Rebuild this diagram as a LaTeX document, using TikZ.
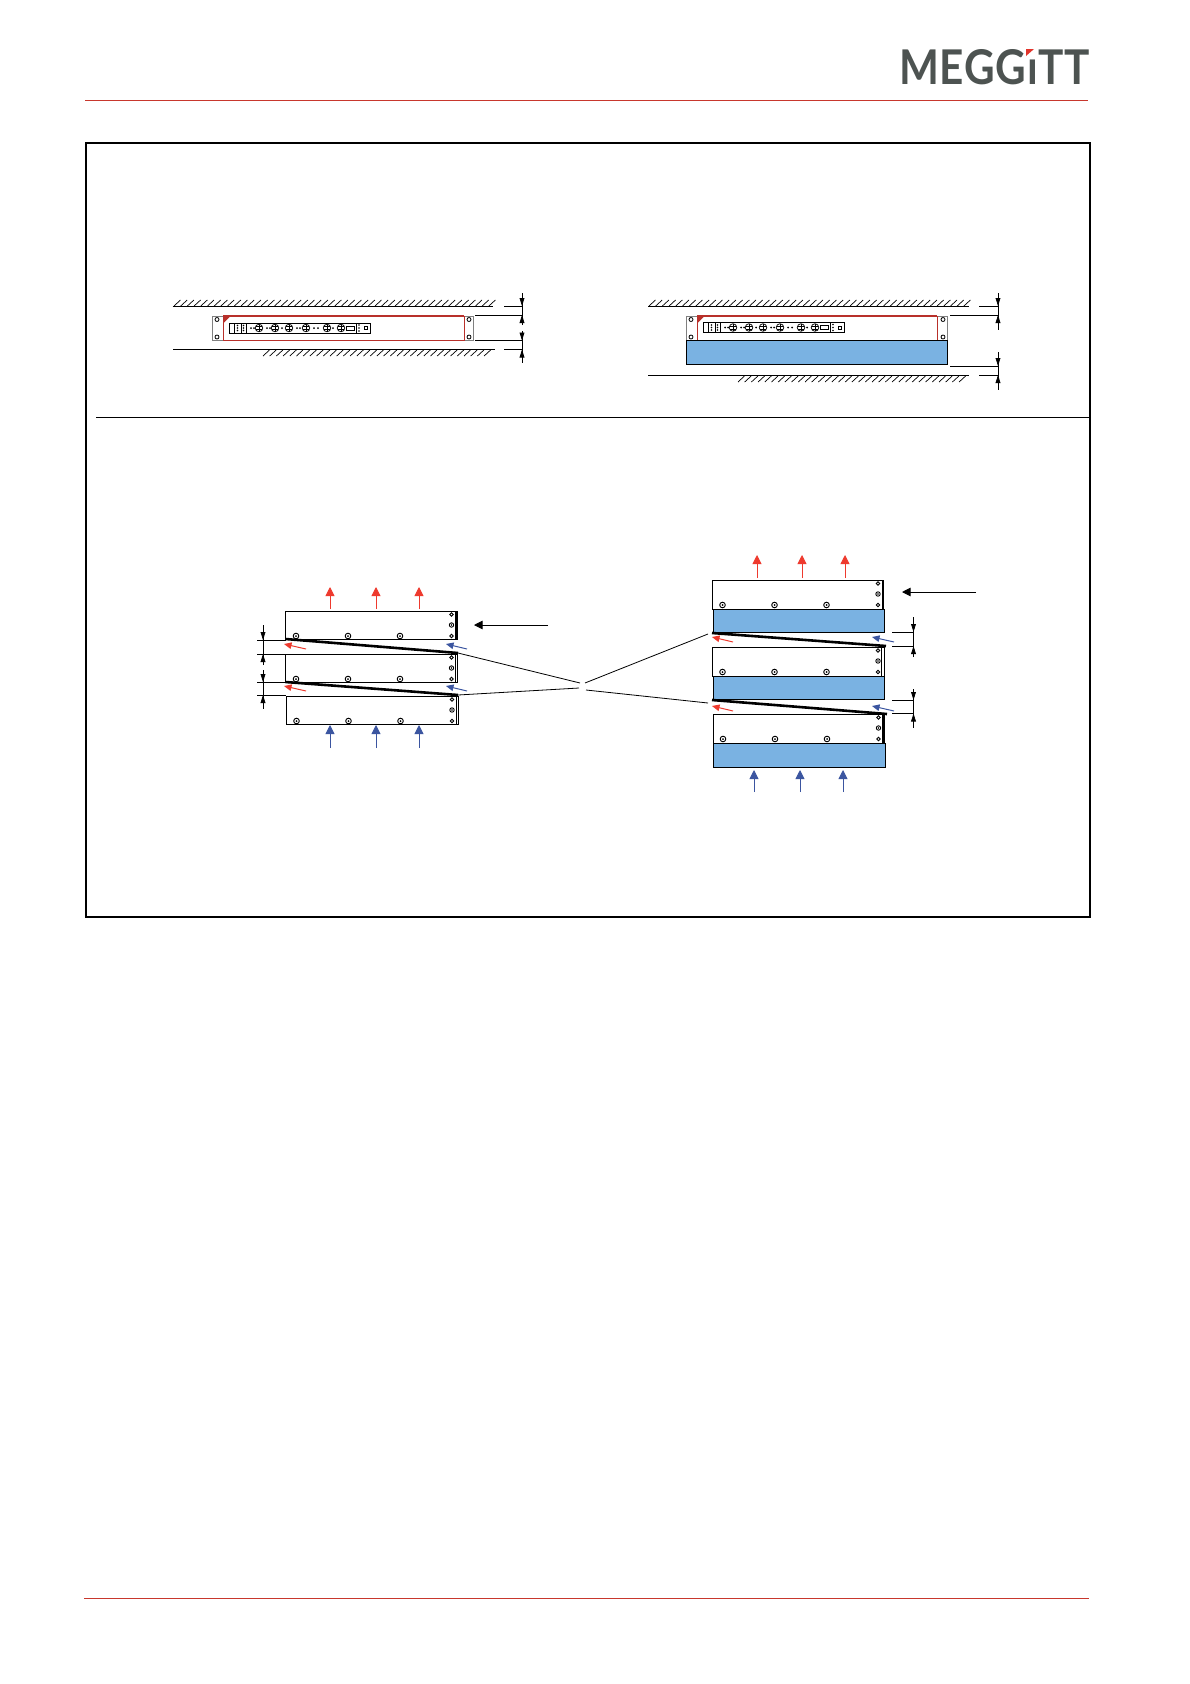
\documentclass[tikz,border=0pt]{standalone}
\usepackage{fontspec}
\setmainfont{Lato}
\usetikzlibrary{arrows.meta}
\definecolor{hdrred}{HTML}{C8372D}
\definecolor{logogray}{HTML}{4D5351}
\definecolor{logored}{HTML}{E2342B}
\definecolor{fillblue}{HTML}{7AB2E2}
\definecolor{airred}{HTML}{EE3A2E}
\definecolor{airblue}{HTML}{3B55A0}
\definecolor{rackred}{HTML}{B8302A}
\tikzset{
  thinline/.style={line width=0.9pt,black},
  hdrline/.style={line width=0.9pt,hdrred},
  unitbox/.style={draw,line width=1pt,fill=white,inner sep=0pt,outer sep=0pt,anchor=north west},
  bluebox/.style={draw,line width=1pt,fill=fillblue,inner sep=0pt,outer sep=0pt,anchor=north west},
  rackbox/.style={draw=gray,line width=0.9pt,fill=white,inner sep=0pt,outer sep=0pt,anchor=north west},
  redbox/.style={draw=rackred,line width=0.8pt,inner sep=0pt,outer sep=0pt,anchor=north west},
  wedge/.style={line width=2.6pt,black},
  leader/.style={line width=0.8pt,black},
  hotair/.style={line width=0.9pt,airred,-{Triangle[length=9pt,width=9pt]}},
  coldair/.style={line width=0.9pt,airblue,-{Triangle[length=9pt,width=9pt]}},
  hotgap/.style={line width=1pt,airred,-{Triangle[length=7.5pt,width=6.5pt]}},
  coldgap/.style={line width=1pt,airblue,-{Triangle[length=7.5pt,width=6.5pt]}},
  callout/.style={line width=0.9pt,black,-{Triangle[length=8.5pt,width=8.5pt]}},
  dimline/.style={line width=0.8pt,black},
  dimtip/.style={line width=0.8pt,black,-{Triangle[length=8pt,width=4.8pt]}},
  screw/.style={line width=0.9pt,black,fill=white},
}
% #1 x start, #2 x end, #3 y of the foot of each hatch stroke
\newcommand{\wallhatch}[3]{%
  \pgfmathsetmacro{\hnext}{#1+6.7}
  \foreach \hx in {#1,\hnext,...,#2}{
    \draw[line width=0.7pt,black] (\hx,#3) -- ++(6.5,-6);
  }}
\newcommand{\unitscrews}[2]{%
  \foreach \sx in {10,62,114}{
    \draw[screw] (#1+\sx,#2+25) circle (2.8pt);
    \fill (#1+\sx,#2+25) circle (1pt);
  }
  \foreach \sy in {3.5,25}{
    \draw[screw] (#1+165.5,#2+\sy) circle (1.8pt);
  }
  \draw[screw] (#1+165.5,#2+14) circle (2.2pt);
  \fill (#1+165.5,#2+14) circle (0.8pt);
}
\newcommand{\rackpanel}[2]{%
  \draw[line width=0.7pt] (#1,#2) rectangle (#1+141,#2+10);
  \draw[line width=0.6pt] (#1+5,#2) -- (#1+5,#2+10) (#1+12,#2) -- (#1+12,#2+10) (#1+17,#2) -- (#1+17,#2+10) (#1+127,#2) -- (#1+127,#2+10);
  \foreach \sy in {2.5,5,7.5}{ \fill (#1+8.5,#2+\sy) circle (0.8pt); \fill (#1+14.5,#2+\sy) circle (0.8pt); }
  \foreach \sx in {30,46,60,77,98,112}{
    \draw[line width=0.7pt] (#1+\sx,#2+5) circle (3.8pt);
    \draw[line width=0.6pt] (#1+\sx-3,#2+3.5) -- (#1+\sx+3,#2+3.5) (#1+\sx-3,#2+6.5) -- (#1+\sx+3,#2+6.5) (#1+\sx,#2+1.5) -- (#1+\sx,#2+8.5);
  }
  \foreach \sx in {22,25,38,41,53,68,71,85,89,104}{ \fill (#1+\sx,#2+5) circle (1pt); }
  \draw[line width=0.8pt] (#1+117,#2+3) rectangle (#1+125,#2+7);
  \foreach \sy in {2,5,8}{ \fill (#1+130,#2+\sy) circle (0.8pt); }
  \draw[line width=0.6pt] (#1+135,#2+3.5) rectangle (#1+138,#2+6.5);
}
\newcommand{\rackscrews}[4]{%
  \draw[line width=0.8pt] (#1,#2+3.5) circle (2pt) (#1,#2+21) circle (2pt);
  \draw[line width=0.8pt] (#3,#2+3.5) circle (2pt) (#3,#2+21) circle (2pt);
  \fill[rackred] (#4,#2) -- (#4+7,#2) -- (#4,#2+7) -- cycle;
}
\begin{document}
\begin{tikzpicture}[x=1pt,y=-1pt]
\useasboundingbox (0,0) rectangle (1190,1684);
\fill[white] (0,0) rectangle (1190,1684);

% header and footer
\node[inner sep=0pt,outer sep=0pt,anchor=north west,text=logogray] (logo) at (899,49) {\resizebox{191pt}{35pt}{\addfontfeatures{LetterSpace=2}\bfseries MEGGıTT}};
\fill[logored] (1026,49) -- (1034,49) -- (1026,56) -- cycle;
\coordinate (hl) at (85,100.5); \coordinate (hr) at (1088,100.5);
\draw[hdrline] (hl) -- (hr);
\coordinate (fl) at (84,1598); \coordinate (fr) at (1089,1598);
\draw[hdrline] (fl) -- (fr);

% frame
\node[draw,line width=1.6pt,inner sep=0pt,outer sep=0pt,minimum width=1004pt,minimum height=774pt,anchor=north west] (frame) at (86,143) {};
\coordinate (divl) at (96,417); \coordinate (divr) at (1090,417);
\draw[thinline] (divl) -- (divr);

% ===== top left: rack unit between walls =====
\coordinate (tl1) at (172.5,306); \coordinate (tl2) at (493,306);
\coordinate (tl3) at (173,349.5); \coordinate (tl4) at (495,349.5);
\draw[thinline] (tl1) -- (tl2);
\draw[thinline] (tl3) -- (tl4);
\wallhatch{174}{490}{306}
\wallhatch{263}{487}{356}
\node[rackbox,minimum width=261pt,minimum height=24pt] (rackA) at (212.5,316) {};
\node[redbox,minimum width=241pt,minimum height=24pt] (redA) at (223,316) {};
\draw[line width=1.3pt,rackred] (redA.north west) -- (redA.north east);
\rackscrews{217}{316}{469}{223.5}
\rackpanel{229}{323}
% dimensions
\draw[dimline] (522,293) -- (522,323);
\draw[dimline] (522,332) -- (522,363);
\coordinate (da1) at (504,306); \coordinate (da1e) at (522,306);
\coordinate (da2) at (475,315); \coordinate (da2e) at (522,315);
\coordinate (da3) at (475,340.5); \coordinate (da3e) at (522,340.5);
\coordinate (da4) at (504,349.5); \coordinate (da4e) at (522,349.5);
\draw[dimline] (da1) -- (da1e);
\draw[dimline] (da2) -- (da2e);
\draw[dimline] (da3) -- (da3e);
\draw[dimline] (da4) -- (da4e);
\draw[dimtip] (522,296) -- (da1e);
\draw[dimtip] (522,325) -- (da2e);
\draw[dimtip] (522,331) -- (da3e);
\draw[dimtip] (522,360) -- (da4e);

% ===== top right: rack unit with blue spacer =====
\coordinate (tr1) at (648,306); \coordinate (tr2) at (969,306);
\coordinate (tr3) at (648,375); \coordinate (tr4) at (969,375);
\draw[thinline] (tr1) -- (tr2);
\draw[thinline] (tr3) -- (tr4);
\wallhatch{649}{965}{306}
\wallhatch{738}{962}{382}
\node[rackbox,minimum width=261pt,minimum height=24pt] (rackB) at (686.5,316) {};
\node[redbox,minimum width=240pt,minimum height=24pt] (redB) at (697,316) {};
\draw[line width=1.3pt,rackred] (redB.north west) -- (redB.north east);
\rackscrews{691}{316}{943}{697.5}
\rackpanel{703}{322.5}
\node[bluebox,minimum width=261pt,minimum height=24pt] (spacerB) at (686.5,340) {};
\draw[dimline] (998,293) -- (998,330);
\draw[dimline] (998,352) -- (998,390);
\coordinate (db1) at (979,306); \coordinate (db1e) at (998,306);
\coordinate (db2) at (950,315); \coordinate (db2e) at (998,315);
\coordinate (db3) at (950,366); \coordinate (db3e) at (998,366);
\coordinate (db4) at (979,375); \coordinate (db4e) at (998,375);
\draw[dimline] (db1) -- (db1e);
\draw[dimline] (db2) -- (db2e);
\draw[dimline] (db3) -- (db3e);
\draw[dimline] (db4) -- (db4e);
\draw[dimtip] (998,296) -- (db1e);
\draw[dimtip] (998,325) -- (db2e);
\draw[dimtip] (998,356) -- (db3e);
\draw[dimtip] (998,386) -- (db4e);

% ===== bottom left stack =====
\node[unitbox,minimum width=171.5pt,minimum height=28pt] (L1) at (285.5,611) {};
\node[unitbox,minimum width=171.5pt,minimum height=28pt] (L2) at (285.5,654) {};
\node[unitbox,minimum width=172pt,minimum height=28pt] (L3) at (286.5,696) {};
\unitscrews{286}{611}
\unitscrews{286}{654}
\unitscrews{286.5}{696}
\draw[line width=1.6pt] (456,611) -- (456,639);
\draw[line width=0.7pt] (455,654) -- (455,682);
\draw[line width=0.7pt] (456,696) -- (456,724);
\coordinate (wa1) at (285.5,639); \coordinate (wa2) at (458,653);
\coordinate (wb1) at (285.5,682); \coordinate (wb2) at (458,695);
\draw[wedge] (wa1) -- (wa2);
\draw[wedge] (wb1) -- (wb2);
% air arrows
\foreach \ax/\nm in {330/a,376/b,419/c}{
  \coordinate (ls\nm) at (\ax,609); \coordinate (le\nm) at (\ax,587);
  \draw[hotair] (ls\nm) -- (le\nm);
  \coordinate (cs\nm) at (\ax,748); \coordinate (ce\nm) at (\ax,725);
  \draw[coldair] (cs\nm) -- (ce\nm);
}
\foreach \gy/\nm in {649/a,691/b}{
  \coordinate (gs\nm) at (306,\gy); \coordinate (ge\nm) at (284,\gy-5);
  \draw[hotgap] (gs\nm) -- (ge\nm);
  \coordinate (hs\nm) at (467,\gy); \coordinate (he\nm) at (446,\gy-5);
  \draw[coldgap] (hs\nm) -- (he\nm);
}
\coordinate (calloutL) at (548,625); \coordinate (calloutLe) at (474,625);
\draw[callout] (calloutL) -- (calloutLe);
% left dimensions
\draw[dimline] (263,625) -- (263,663);
\draw[dimline] (263,670) -- (263,709);
\foreach \dy/\nm in {640/a,654/b,682/c,695/d}{
  \coordinate (ds\nm) at (257,\dy); \coordinate (de\nm) at (286,\dy);
  \draw[dimline] (ds\nm) -- (de\nm);
}
\draw[dimtip] (263,629) -- (263,640);
\draw[dimtip] (263,665) -- (263,654);
\draw[dimtip] (263,671) -- (263,682);
\draw[dimtip] (263,706) -- (263,695);

% ===== bottom right stack =====
\node[unitbox,minimum width=171pt,minimum height=29pt] (R1) at (712,580) {};
\node[bluebox,minimum width=171pt,minimum height=23pt] (RB1) at (713,609) {};
\node[unitbox,minimum width=172pt,minimum height=29pt] (R2) at (712,647) {};
\node[bluebox,minimum width=171pt,minimum height=23pt] (RB2) at (713,676) {};
\node[unitbox,minimum width=171pt,minimum height=29pt] (R3) at (713,714) {};
\node[bluebox,minimum width=172pt,minimum height=24pt] (RB3) at (713,743) {};
\unitscrews{712.5}{580}
\unitscrews{712.5}{647}
\unitscrews{713}{714}
\draw[line width=1.6pt] (882.5,580) -- (882.5,609);
\draw[line width=0.7pt] (881.5,647) -- (881.5,676);
\draw[line width=1.2pt] (883,714) -- (883,743);
\coordinate (wc1) at (712,633); \coordinate (wc2) at (886,646);
\coordinate (wd1) at (712,700); \coordinate (wd2) at (887,714);
\draw[wedge] (wc1) -- (wc2);
\draw[wedge] (wd1) -- (wd2);
\foreach \ax/\nm in {757/a,802/b,845/c}{
  \coordinate (rs\nm) at (\ax,578); \coordinate (re\nm) at (\ax,555);
  \draw[hotair] (rs\nm) -- (re\nm);
}
\foreach \ax/\nm in {754/a,800/b,843/c}{
  \coordinate (us\nm) at (\ax,792); \coordinate (ue\nm) at (\ax,770);
  \draw[coldair] (us\nm) -- (ue\nm);
}
\foreach \gy/\nm in {642/a,711/b}{
  \coordinate (js\nm) at (733,\gy); \coordinate (je\nm) at (712,\gy-5);
  \draw[hotgap] (js\nm) -- (je\nm);
  \coordinate (ks\nm) at (894,\gy); \coordinate (ke\nm) at (872,\gy-5);
  \draw[coldgap] (ks\nm) -- (ke\nm);
}
\coordinate (calloutR) at (976,592); \coordinate (calloutRe) at (902,592);
\draw[callout] (calloutR) -- (calloutRe);
\draw[dimline] (913.5,617) -- (913.5,657);
\draw[dimline] (913.5,689) -- (913.5,728);
\foreach \dy/\nm in {632/a,646/b,700/c,713.5/d}{
  \coordinate (ms\nm) at (892,\dy); \coordinate (me\nm) at (913.5,\dy);
  \draw[dimline] (ms\nm) -- (me\nm);
}
\draw[dimtip] (913.5,621) -- (913.5,632);
\draw[dimtip] (913.5,657) -- (913.5,646);
\draw[dimtip] (913.5,689) -- (913.5,700);
\draw[dimtip] (913.5,725) -- (913.5,713.5);

% leaders
\coordinate (c1) at (580,683); \coordinate (c2) at (579,688);
\coordinate (c3) at (585,683); \coordinate (c4) at (586,690);
\coordinate (wcn) at (708,634); \coordinate (wdn) at (708,703);
\draw[leader] (wa2) -- (c1);
\draw[leader] (wb2) -- (c2);
\draw[leader] (c3) -- (wcn);
\draw[leader] (c4) -- (wdn);
\end{tikzpicture}
\end{document}
